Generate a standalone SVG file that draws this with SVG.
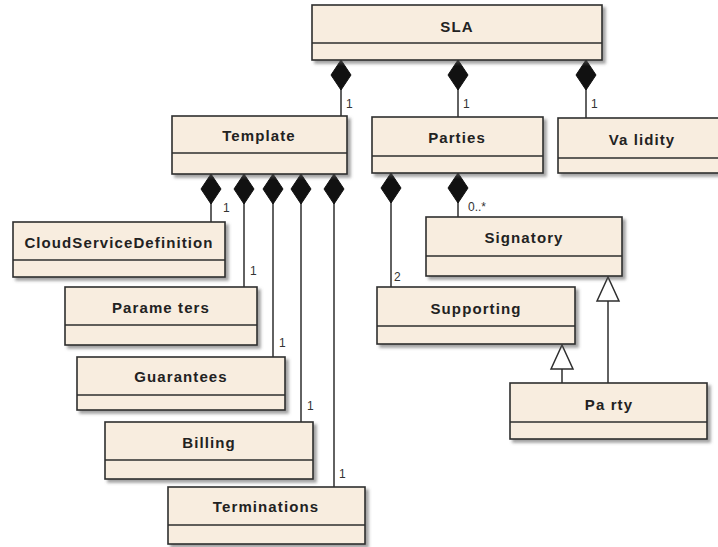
<svg xmlns="http://www.w3.org/2000/svg" width="718" height="547" viewBox="0 0 718 547">
<defs>
<style>
.box{fill:#f8eddf;stroke:#2e2e2e;stroke-width:1.6;filter:url(#sh)}
.div{stroke:#2e2e2e;stroke-width:1.4}
.t{font-family:"Liberation Sans",Arial,sans-serif;font-weight:bold;font-size:15px;letter-spacing:1.1px;fill:#222;text-anchor:middle}
.m{font-family:"Liberation Sans",Arial,sans-serif;font-size:12px;fill:#333}
.c{fill:none;stroke:#2e2e2e;stroke-width:1.5}
.comp{marker-start:url(#dia)}
.gen{marker-end:url(#tri)}
</style>
<filter id="sh" x="-10%" y="-10%" width="130%" height="140%">
<feDropShadow dx="3" dy="3" stdDeviation="1.5" flood-color="#555" flood-opacity="0.55"/>
</filter>
<marker id="dia" markerUnits="userSpaceOnUse" markerWidth="32" markerHeight="24" refX="0" refY="11" orient="auto" viewBox="0 0 32 22">
<path d="M0,11 L15,1 L30,11 L15,21 Z" fill="#111" stroke="#111" stroke-width="1"/>
</marker>
<marker id="tri" markerUnits="userSpaceOnUse" markerWidth="28" markerHeight="26" refX="25" refY="12" orient="auto" viewBox="0 0 28 24">
<path d="M1,1 L25,12 L1,23 Z" fill="#fff" stroke="#2e2e2e" stroke-width="1.5"/>
</marker>
</defs>

<g id="connectors">
<path class="c comp" d="M341,60 V116"/>
<path class="c comp" d="M458,60 V117"/>
<path class="c comp" d="M586,60 V118"/>
<path class="c comp" d="M211,174 V222"/>
<path class="c comp" d="M244,174 V287"/>
<path class="c comp" d="M273,174 V357"/>
<path class="c comp" d="M301,174 V422"/>
<path class="c comp" d="M334,174 V487"/>
<path class="c comp" d="M391,173 V287"/>
<path class="c comp" d="M458,173 V217"/>
<path class="c gen" d="M562,383 V345"/>
<path class="c gen" d="M608,383 V277"/>
<text class="m" x="346" y="108">1</text>
<text class="m" x="463" y="108">1</text>
<text class="m" x="591" y="108">1</text>
<text class="m" x="223" y="212">1</text>
<text class="m" x="250" y="275">1</text>
<text class="m" x="279" y="347">1</text>
<text class="m" x="307" y="410">1</text>
<text class="m" x="339" y="478">1</text>
<text class="m" x="468" y="211">0..*</text>
<text class="m" x="394" y="281">2</text>
</g>

<g id="SLA"><rect class="box" x="312" y="5" width="290" height="55"/><line class="div" x1="312" y1="43" x2="602" y2="43"/><text class="t" x="457" y="32">SLA</text></g>
<g id="Template"><rect class="box" x="172" y="116" width="175" height="58"/><line class="div" x1="172" y1="153" x2="347" y2="153"/><text class="t" x="259" y="141">Template</text></g>
<g id="Parties"><rect class="box" x="372" y="117" width="171" height="56"/><line class="div" x1="372" y1="156" x2="543" y2="156"/><text class="t" x="457" y="143">Parties</text></g>
<g id="Validity"><rect class="box" x="558" y="118" width="170" height="55"/><line class="div" x1="558" y1="158" x2="728" y2="158"/><text class="t" x="642" y="145">Va lidity</text></g>
<g id="CloudServiceDefinition"><rect class="box" x="13" y="222" width="212" height="55"/><line class="div" x1="13" y1="260" x2="225" y2="260"/><text class="t" x="119" y="248">CloudServiceDefinition</text></g>
<g id="Parameters"><rect class="box" x="65" y="287" width="192" height="58"/><line class="div" x1="65" y1="325" x2="257" y2="325"/><text class="t" x="161" y="313">Parame ters</text></g>
<g id="Guarantees"><rect class="box" x="77" y="357" width="208" height="53"/><line class="div" x1="77" y1="395" x2="285" y2="395"/><text class="t" x="181" y="382">Guarantees</text></g>
<g id="Billing"><rect class="box" x="105" y="422" width="208" height="57"/><line class="div" x1="105" y1="460" x2="313" y2="460"/><text class="t" x="209" y="448">Billing</text></g>
<g id="Terminations"><rect class="box" x="168" y="487" width="197" height="57"/><line class="div" x1="168" y1="525" x2="365" y2="525"/><text class="t" x="266" y="512">Terminations</text></g>
<g id="Signatory"><rect class="box" x="426" y="217" width="196" height="59"/><line class="div" x1="426" y1="256" x2="622" y2="256"/><text class="t" x="524" y="243">Signatory</text></g>
<g id="Supporting"><rect class="box" x="377" y="287" width="198" height="57"/><line class="div" x1="377" y1="326" x2="575" y2="326"/><text class="t" x="476" y="314">Supporting</text></g>
<g id="Party"><rect class="box" x="510" y="383" width="197" height="56"/><line class="div" x1="510" y1="422" x2="707" y2="422"/><text class="t" x="609" y="410">Pa rty</text></g>
</svg>
